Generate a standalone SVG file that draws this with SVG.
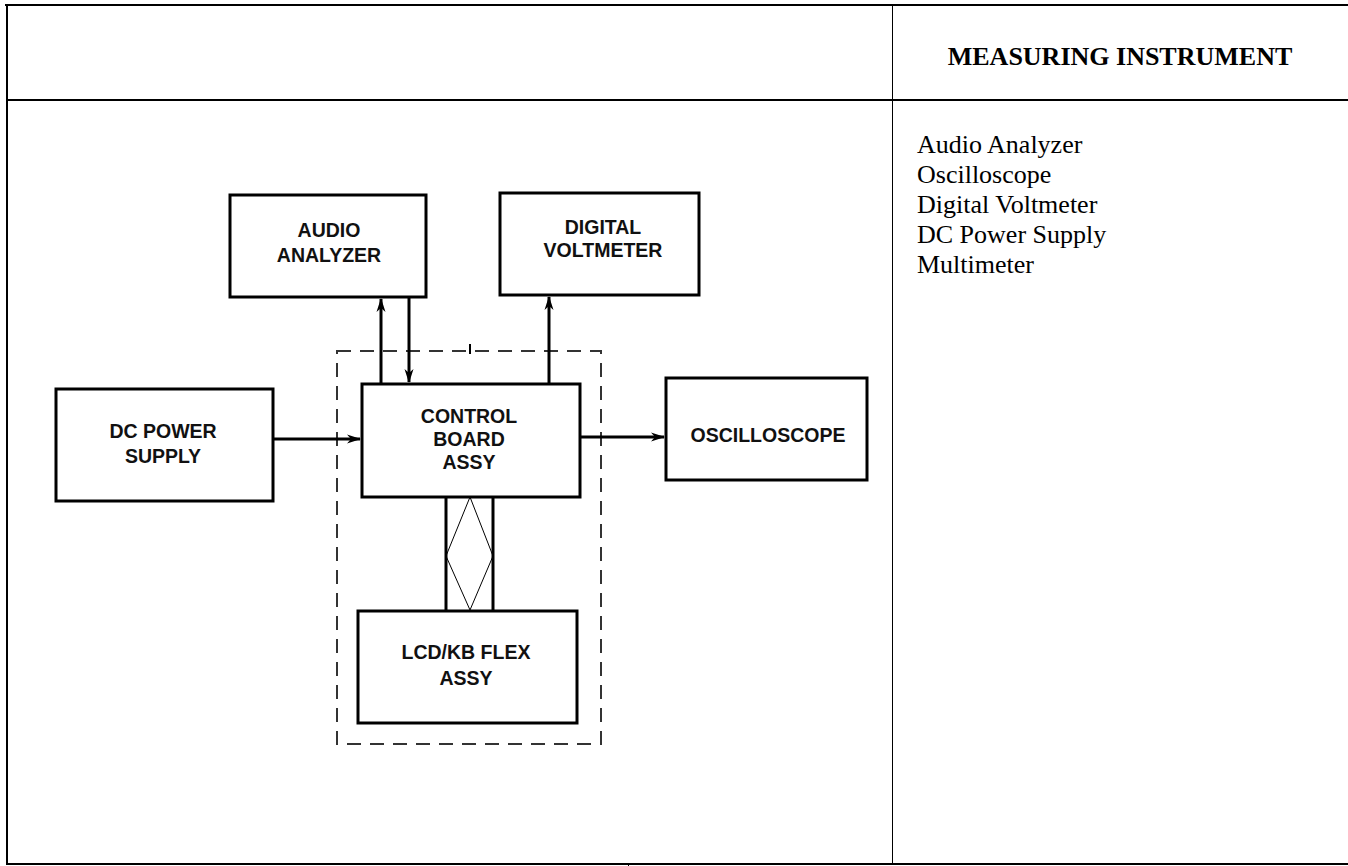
<svg xmlns="http://www.w3.org/2000/svg" width="1348" height="866" viewBox="0 0 1348 866">
<style>
.tbl{stroke:#000;fill:none}
.box{fill:#fff;stroke:#000;stroke-width:3}
.lbl{font-family:"Liberation Sans",Arial,sans-serif;font-weight:bold;font-size:19.5px;fill:#111;text-anchor:middle}
.hdr{font-family:"Liberation Serif","Times New Roman",serif;font-weight:bold;font-size:26px;fill:#000;text-anchor:middle}
.lst{font-family:"Liberation Serif","Times New Roman",serif;font-size:26px;fill:#000}
.wire{stroke:#000;stroke-width:3;fill:none}
.dash{stroke:#333;stroke-width:2;fill:none;stroke-dasharray:14,9}
</style>
<defs>
<marker id="arr" viewBox="0 0 14 10" refX="13" refY="5" markerWidth="14" markerHeight="10" markerUnits="userSpaceOnUse" orient="auto">
<path d="M0,0.5 L14,5 L0,9.5 L4,5 Z" fill="#000"/>
</marker>
</defs>
<rect width="1348" height="866" fill="#fff"/>
<g id="table">
<line class="tbl" x1="5" y1="5" x2="1348" y2="5" stroke-width="2"/>
<line class="tbl" x1="7" y1="100" x2="1348" y2="100" stroke-width="2"/>
<line class="tbl" x1="7" y1="864" x2="1348" y2="864" stroke-width="2"/>
<line class="tbl" x1="7" y1="4" x2="7" y2="865" stroke-width="2"/>
<line class="tbl" x1="892.5" y1="5" x2="892.5" y2="865" stroke-width="1"/>
<line class="tbl" x1="628.5" y1="863" x2="628.5" y2="866" stroke-width="1"/>
<text class="hdr" x="1120" y="65">MEASURING INSTRUMENT</text>
<text class="lst" x="917" y="153">Audio Analyzer</text>
<text class="lst" x="917" y="183">Oscilloscope</text>
<text class="lst" x="917" y="213">Digital Voltmeter</text>
<text class="lst" x="917" y="243">DC Power Supply</text>
<text class="lst" x="917" y="273">Multimeter</text>
</g>
<g id="enclosure">
<rect class="dash" x="337" y="351" width="264" height="393"/>
<line x1="470" y1="344" x2="470" y2="354" stroke="#000" stroke-width="2"/>
</g>
<g id="connectors">
<line class="wire" x1="381" y1="384" x2="381" y2="299" marker-end="url(#arr)"/>
<line class="wire" x1="409" y1="297" x2="409" y2="382" marker-end="url(#arr)"/>
<line class="wire" x1="549" y1="384" x2="549" y2="297" marker-end="url(#arr)"/>
<line class="wire" x1="273" y1="439" x2="360" y2="439" marker-end="url(#arr)"/>
<line class="wire" x1="580" y1="437" x2="664" y2="437" marker-end="url(#arr)"/>
<line class="wire" x1="446" y1="497" x2="446" y2="611"/>
<line class="wire" x1="493" y1="497" x2="493" y2="611"/>
<path d="M470,497 L446,556 L470,610 L493,556 Z" fill="none" stroke="#000" stroke-width="1"/>
</g>
<g id="audio-analyzer">
<rect class="box" x="230" y="195" width="196" height="102"/>
<text class="lbl" x="329" y="237">AUDIO</text>
<text class="lbl" x="329" y="262">ANALYZER</text>
</g>
<g id="digital-voltmeter">
<rect class="box" x="500" y="193" width="199" height="102"/>
<text class="lbl" x="603" y="234">DIGITAL</text>
<text class="lbl" x="603" y="257">VOLTMETER</text>
</g>
<g id="dc-power-supply">
<rect class="box" x="56" y="389" width="217" height="112"/>
<text class="lbl" x="163" y="438">DC POWER</text>
<text class="lbl" x="163" y="463">SUPPLY</text>
</g>
<g id="control-board">
<rect class="box" x="362" y="384" width="218" height="113"/>
<text class="lbl" x="469" y="423">CONTROL</text>
<text class="lbl" x="469" y="446">BOARD</text>
<text class="lbl" x="469" y="469">ASSY</text>
</g>
<g id="oscilloscope">
<rect class="box" x="666" y="378" width="201" height="102"/>
<text class="lbl" x="768" y="442">OSCILLOSCOPE</text>
</g>
<g id="lcd-kb-flex">
<rect class="box" x="358" y="611" width="219" height="112"/>
<text class="lbl" x="466" y="659">LCD/KB FLEX</text>
<text class="lbl" x="466" y="685">ASSY</text>
</g>
</svg>
